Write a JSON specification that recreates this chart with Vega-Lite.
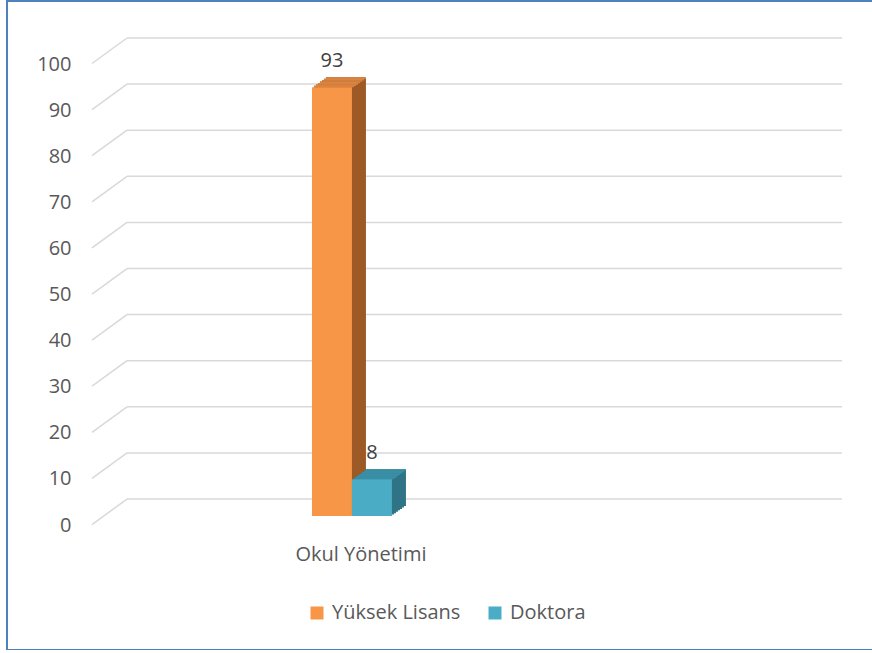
{
  "$schema": "https://vega.github.io/schema/vega-lite/v6.json",
  "width": 868,
  "height": 649,
  "autosize": {"type": "none"},
  "padding": {"left": 7, "top": 1, "right": 0, "bottom": 0},
  "background": "white",
  "config": {
    "view": {"stroke": "#4f81bd", "strokeWidth": 2},
    "font": "Open Sans",
    "axis": {"labelFont": "Open Sans", "labelColor": "#595959", "labelFontSize": 20}
  },
  "datasets": {
    "bars": [
      {"cat": "Okul Yönetimi", "series": "Yüksek Lisans", "v": 93},
      {"cat": "Okul Yönetimi", "series": "Doktora", "v": 8}
    ],
    "grid": [
      {"g": 0}, {"g": 10}, {"g": 20}, {"g": 30}, {"g": 40}, {"g": 50},
      {"g": 60}, {"g": 70}, {"g": 80}, {"g": 90}, {"g": 100}
    ]
  },
  "layer": [
    {
      "data": {"name": "grid"},
      "mark": {"type": "rule", "color": "#d9d9d9", "strokeWidth": 1.5},
      "encoding": {
        "x": {"value": 120},
        "x2": {"value": 835},
        "y": {"field": "g", "type": "quantitative", "scale": {"domain": [-32.75, 108.03], "nice": false, "zero": false}, "axis": {"values": [0,10,20,30,40,50,60,70,80,90,100], "title": null, "grid": false, "domain": false, "ticks": false, "tickSize": 0, "labelPadding": 2, "offset": -66, "labelOffset": 26, "labelBaseline": "middle"}}
      }
    },
    {
      "data": {"name": "grid"},
      "mark": {"type": "rule", "yOffset": 25.5, "y2Offset": 0, "color": "#d9d9d9", "strokeWidth": 1.5},
      "encoding": {
        "x": {"value": 85},
        "x2": {"value": 120},
        "y": {"field": "g", "type": "quantitative"},
        "y2": {"field": "g"}
      }
    },
    {
      "data": {"name": "bars"},
      "transform": [{"filter": "datum.series === 'Yüksek Lisans'"}],
      "encoding": {
        "x": {"field": "cat", "type": "nominal", "scale": {"paddingInner": 0.797, "paddingOuter": 1, "align": 0.387}, "axis": {"title": null, "labelAngle": 0, "domain": false, "ticks": false, "tickSize": 0, "labelPadding": 0, "offset": -106, "labelOffset": 9, "labelBaseline": "top"}},
        "y": {"field": "v", "type": "quantitative"}
      },
      "layer": [
        {"mark": {"type": "bar", "width": 40, "color": "#9d5a27", "xOffset": -6, "yOffset": 7, "y2Offset": 7}},
        {"mark": {"type": "bar", "width": 40, "color": "#9d5a27", "xOffset": -8, "yOffset": 8.43, "y2Offset": 8.43}},
        {"mark": {"type": "bar", "width": 40, "color": "#9d5a27", "xOffset": -10, "yOffset": 9.86, "y2Offset": 9.86}},
        {"mark": {"type": "bar", "width": 40, "color": "#9d5a27", "xOffset": -12, "yOffset": 11.29, "y2Offset": 11.29}},
        {"mark": {"type": "bar", "width": 40, "color": "#9d5a27", "xOffset": -14, "yOffset": 12.71, "y2Offset": 12.71}},
        {"mark": {"type": "bar", "width": 40, "color": "#9d5a27", "xOffset": -16, "yOffset": 14.14, "y2Offset": 14.14}},
        {"mark": {"type": "bar", "width": 40, "color": "#9d5a27", "xOffset": -18, "yOffset": 15.57, "y2Offset": 15.57}},
        {"mark": {"type": "bar", "width": 40, "color": "#d98340", "xOffset": -6, "yOffset": 7, "y2Offset": 8.7}, "encoding": {"y2": {"field": "v"}}},
        {"mark": {"type": "bar", "width": 40, "color": "#d98340", "xOffset": -8, "yOffset": 8.43, "y2Offset": 10.1}, "encoding": {"y2": {"field": "v"}}},
        {"mark": {"type": "bar", "width": 40, "color": "#d98340", "xOffset": -10, "yOffset": 9.86, "y2Offset": 11.5}, "encoding": {"y2": {"field": "v"}}},
        {"mark": {"type": "bar", "width": 40, "color": "#d98340", "xOffset": -12, "yOffset": 11.29, "y2Offset": 12.95}, "encoding": {"y2": {"field": "v"}}},
        {"mark": {"type": "bar", "width": 40, "color": "#d98340", "xOffset": -14, "yOffset": 12.71, "y2Offset": 14.4}, "encoding": {"y2": {"field": "v"}}},
        {"mark": {"type": "bar", "width": 40, "color": "#d98340", "xOffset": -16, "yOffset": 14.14, "y2Offset": 15.8}, "encoding": {"y2": {"field": "v"}}},
        {"mark": {"type": "bar", "width": 40, "color": "#d98340", "xOffset": -18, "yOffset": 15.57, "y2Offset": 17}, "encoding": {"y2": {"field": "v"}}}
      ]
    },
    {
      "data": {"name": "bars"},
      "transform": [{"filter": "datum.series === 'Doktora'"}],
      "encoding": {
        "x": {"field": "cat", "type": "nominal"},
        "y": {"field": "v", "type": "quantitative"}
      },
      "layer": [
        {"mark": {"type": "bar", "width": 40, "color": "#2f7487", "xOffset": 34, "yOffset": 7, "y2Offset": 7}},
        {"mark": {"type": "bar", "width": 40, "color": "#2f7487", "xOffset": 32, "yOffset": 8.43, "y2Offset": 8.43}},
        {"mark": {"type": "bar", "width": 40, "color": "#2f7487", "xOffset": 30, "yOffset": 9.86, "y2Offset": 9.86}},
        {"mark": {"type": "bar", "width": 40, "color": "#2f7487", "xOffset": 28, "yOffset": 11.29, "y2Offset": 11.29}},
        {"mark": {"type": "bar", "width": 40, "color": "#2f7487", "xOffset": 26, "yOffset": 12.71, "y2Offset": 12.71}},
        {"mark": {"type": "bar", "width": 40, "color": "#2f7487", "xOffset": 24, "yOffset": 14.14, "y2Offset": 14.14}},
        {"mark": {"type": "bar", "width": 40, "color": "#2f7487", "xOffset": 22, "yOffset": 15.57, "y2Offset": 15.57}},
        {"mark": {"type": "bar", "width": 40, "color": "#3a8fa6", "xOffset": 34, "yOffset": 7, "y2Offset": 8.7}, "encoding": {"y2": {"field": "v"}}},
        {"mark": {"type": "bar", "width": 40, "color": "#3a8fa6", "xOffset": 32, "yOffset": 8.43, "y2Offset": 10.1}, "encoding": {"y2": {"field": "v"}}},
        {"mark": {"type": "bar", "width": 40, "color": "#3a8fa6", "xOffset": 30, "yOffset": 9.86, "y2Offset": 11.5}, "encoding": {"y2": {"field": "v"}}},
        {"mark": {"type": "bar", "width": 40, "color": "#3a8fa6", "xOffset": 28, "yOffset": 11.29, "y2Offset": 12.95}, "encoding": {"y2": {"field": "v"}}},
        {"mark": {"type": "bar", "width": 40, "color": "#3a8fa6", "xOffset": 26, "yOffset": 12.71, "y2Offset": 14.4}, "encoding": {"y2": {"field": "v"}}},
        {"mark": {"type": "bar", "width": 40, "color": "#3a8fa6", "xOffset": 24, "yOffset": 14.14, "y2Offset": 15.8}, "encoding": {"y2": {"field": "v"}}},
        {"mark": {"type": "bar", "width": 40, "color": "#3a8fa6", "xOffset": 22, "yOffset": 15.57, "y2Offset": 17}, "encoding": {"y2": {"field": "v"}}}
      ]
    },
    {
      "data": {"name": "bars"},
      "mark": {"type": "bar", "yOffset": 17, "y2Offset": 17},
      "encoding": {
        "x": {"field": "cat", "type": "nominal"},
        "xOffset": {"field": "series", "type": "nominal", "scale": {"domain": ["Yüksek Lisans", "Doktora"], "paddingInner": 0, "paddingOuter": 0}},
        "y": {"field": "v", "type": "quantitative"},
        "color": {"field": "series", "type": "nominal", "scale": {"domain": ["Yüksek Lisans", "Doktora"], "range": ["#f79646", "#4bacc6"]}, "legend": {"orient": "none", "legendX": 300, "legendY": 602, "direction": "horizontal", "title": null, "symbolType": "square", "symbolSize": 169, "symbolStrokeWidth": 0, "labelFont": "Open Sans", "labelFontSize": 20, "labelColor": "#595959", "columnPadding": 24, "labelOffset": 5}}
      }
    },
    {
      "data": {"name": "bars"},
      "mark": {"type": "text", "dy": -9, "fontSize": 20, "font": "Open Sans", "color": "#404040", "baseline": "middle"},
      "encoding": {
        "x": {"field": "cat", "type": "nominal"},
        "xOffset": {"field": "series", "type": "nominal"},
        "y": {"field": "v", "type": "quantitative"},
        "text": {"field": "v", "type": "quantitative"}
      }
    }
  ]
}
